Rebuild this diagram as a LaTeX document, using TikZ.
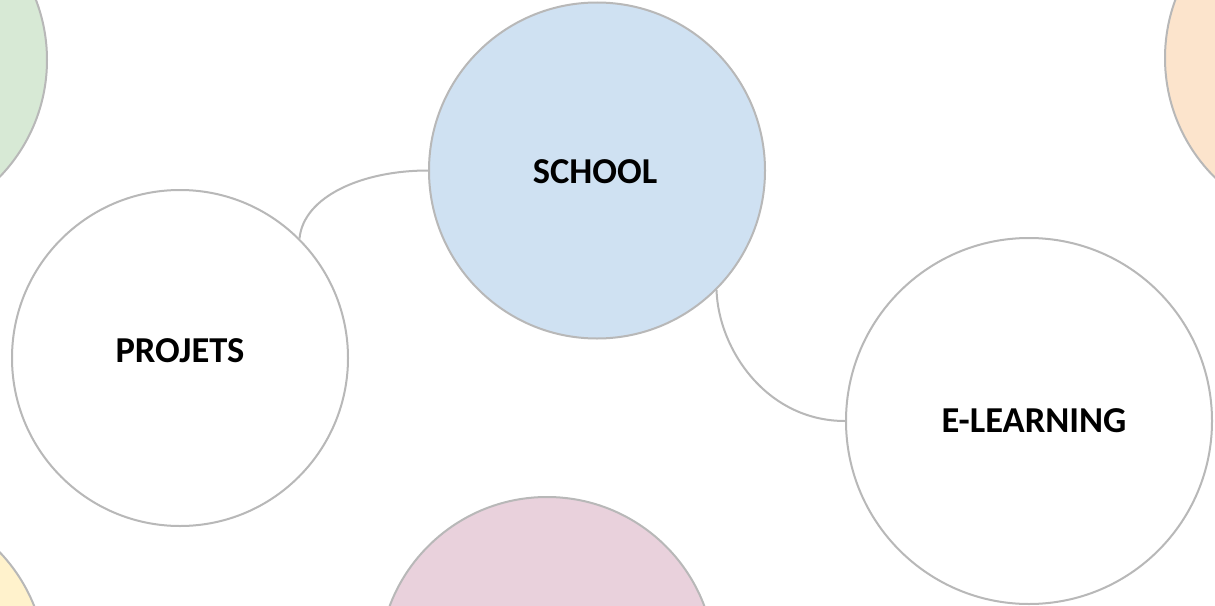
\documentclass[tikz,border=0pt]{standalone}
\usepackage{fontspec}
\setmainfont{Carlito}
\definecolor{bord}{HTML}{B8B8B8}
\definecolor{cblue}{HTML}{CFE1F2}
\definecolor{cgreen}{HTML}{D7E9D5}
\definecolor{corange}{HTML}{FCE4CC}
\definecolor{cpink}{HTML}{E9D1DC}
\definecolor{cyellow}{HTML}{FFF2CC}
\tikzset{
  bubble/.style={circle, draw=bord, line width=2pt, inner sep=0pt},
  big/.style={bubble, minimum size=336pt},
  huge/.style={bubble, minimum size=366pt},
  lbl/.style={font=\fontsize{36.5}{42}\selectfont\bfseries, text=black, inner sep=0pt},
  link/.style={draw=bord, line width=2pt}
}
\begin{document}
\begin{tikzpicture}[x=1pt,y=-1pt]
\begin{scope}
\clip (0,0) rectangle (1215,605);
\fill[white] (0,0) rectangle (1215,605);
\node[big, fill=cgreen] (green) at (-121,60) {};
\node[big, fill=corange] (orange) at (1333,58) {};
\node[big, fill=cyellow] (yellow) at (-122,668) {};
\node[big, fill=cpink] (pink) at (547,665) {};
\node[big, fill=cblue] (school) at (597,170.5) {};
\node[big, fill=white] (projets) at (180,358) {};
\node[huge, fill=white] (elearn) at (1029,421) {};
\draw[link] (projets.45) .. controls +(4,-42) and +(-66,0) .. (school.west);
\draw[link] (school.-45) .. controls +(2,60) and +(-78,0) .. (elearn.west);
\node[lbl] (tschool) at (595,171.5) {SCHOOL};
\node[lbl] (tprojets) at (180,350.5) {PROJETS};
\node[lbl] (telearn) at (1034,420.5) {E-LEARNING};
\end{scope}
\useasboundingbox (0,0) rectangle (1215,605);
\end{tikzpicture}
\end{document}
